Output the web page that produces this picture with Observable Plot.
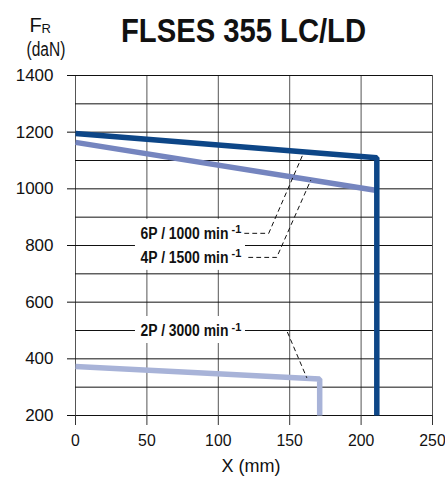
<!DOCTYPE html>
<html><head><meta charset="utf-8">
<script src="https://cdn.jsdelivr.net/npm/d3@7"></script>
<script src="https://cdn.jsdelivr.net/npm/@observablehq/plot@0.6"></script>
<style>
html,body{margin:0;padding:0;background:#fff;}
#chart{width:445px;height:478px;}
</style></head><body><div id="chart"></div>
<script>
// ---- data ----
const xTicks = [0, 50, 100, 150, 200, 250];
const yTicks = [200, 400, 600, 800, 1000, 1200, 1400];
const yGrid = [200, 300, 400, 500, 600, 700, 800, 900, 1000, 1100, 1200, 1300, 1400];

const x6P = [0, 211, 211];
const y6P = [1195, 1110, 200];
const x4P = [0, 210];
const y4P = [1164, 995];
const x2P = [0, 171, 171];
const y2P = [373, 329, 200];

const labels = ["6P / 1000 min", "4P / 1500 min", "2P / 3000 min"];
const labelSup = ["-1", "-1", "-1"];
const labelX = [45.5, 45.5, 45.5];
const labelY = [843, 758, 500];

const lead6Px = [118.5, 135.3, 159.8];
const lead6Py = [843, 843, 1128];
const lead4Px = [121.3, 140.9, 164.7];
const lead4Py = [758, 758, 1030];
const lead2Px = [121.3, 147.9, 161.9];
const lead2Py = [500, 500, 334];

const title = "FLSES 355 LC/LD";
const xLabel = "X (mm)";

const C6 = "#0d4687", C4 = "#7585bf", C2 = "#a8b3d8";
const FONT = "'Liberation Sans', Arial, sans-serif";

const pts = (xs, ys) => xs.map((x, i) => ({x, y: ys[i]}));
const lineOpts = (c) => ({x: "x", y: "y", stroke: c, strokeWidth: 5.5, strokeLinejoin: "miter", strokeLinecap: "butt"});
const leadOpts = {x: "x", y: "y", stroke: "#111", strokeWidth: 1, strokeDasharray: "4,4"};
const labelPos = {x: (d, i) => labelX[i], y: (d, i) => labelY[i]};

const svg = Plot.plot({
  width: 445, height: 478,
  marginLeft: 75, marginRight: 13, marginTop: 75, marginBottom: 63,
  style: {fontFamily: FONT, fontSize: "17px", color: "#111", background: "#fff"},
  x: {domain: [0, 250]},
  y: {domain: [200, 1400]},
  marks: [
    Plot.ruleX(xTicks, {stroke: "#555", strokeWidth: 1}),
    Plot.ruleY(yGrid, {stroke: "#111", strokeWidth: 1}),
    Plot.axisX(xTicks, {tickSize: 10, tickPadding: 8, fontSize: 17, label: null, stroke: "#333", tickFormat: "d"}),
    Plot.axisY(yTicks, {tickSize: 8, tickPadding: 14, fontSize: 17, label: null, stroke: "#111", tickFormat: "d"}),
    Plot.text([xLabel], {frameAnchor: "bottom", dx: -3, dy: 51, fontSize: 18, lineAnchor: "middle"}),
    // white boxes behind the series labels (pixel padding around each label anchor)
    Plot.rect(labels, {x1: (d, i) => labelX[i], x2: (d, i) => labelX[i], y1: (d, i) => labelY[i], y2: (d, i) => labelY[i],
      insetLeft: -5, insetRight: -105, insetTop: -14, insetBottom: -13, fill: "white"}),
    Plot.text(labels, {...labelPos, text: d => d, textAnchor: "start", lineAnchor: "middle",
      fontWeight: "bold", fontSize: 17, fill: "#111", className: "lbl"}),
    Plot.text(labelSup, {...labelPos, text: d => d, dx: 91, dy: -3.5, textAnchor: "start", lineAnchor: "middle",
      fontWeight: "bold", fontSize: 11, fill: "#111"}),
    Plot.line(pts(x4P, y4P), lineOpts(C4)),
    Plot.line(pts(x2P, y2P), lineOpts(C2)),
    Plot.line(pts(x6P, y6P), lineOpts(C6)),
    Plot.line(pts(lead6Px, lead6Py), leadOpts),
    Plot.line(pts(lead4Px, lead4Py), leadOpts),
    Plot.line(pts(lead2Px, lead2Py), leadOpts),
    Plot.text([title], {frameAnchor: "top", dx: -10.5, dy: -44, lineAnchor: "middle",
      fontWeight: "bold", fontSize: 33, fill: "#111", className: "ttl"}),
    Plot.text(["F"], {frameAnchor: "top-left", dx: -46, dy: -50, textAnchor: "start", lineAnchor: "middle", fontSize: 20}),
    Plot.text(["R"], {frameAnchor: "top-left", dx: -34, dy: -46.5, textAnchor: "start", lineAnchor: "middle", fontSize: 13}),
    Plot.text(["(daN)"], {frameAnchor: "top-left", dx: -49, dy: -26, textAnchor: "start", lineAnchor: "middle", fontSize: 21, className: "dan"})
  ]
});

const root = d3.select(svg);
// condensed look of the original type: horizontal squeeze around each text's anchor
function squeeze(sel, s) {
  sel.each(function() {
    const tr = this.getAttribute("transform");
    if (tr) {
      this.setAttribute("transform", tr + ` scale(${s},1)`);
    } else {
      const x = +this.getAttribute("x") || 0, y = +this.getAttribute("y") || 0;
      this.removeAttribute("x"); this.removeAttribute("y");
      this.setAttribute("transform", `translate(${x},${y}) scale(${s},1)`);
    }
  });
}
squeeze(root.selectAll(".ttl text"), 0.885);
squeeze(root.selectAll(".dan text"), 0.74);
squeeze(root.selectAll(".lbl text"), 0.82);
squeeze(root.selectAll('g[aria-label="x-axis tick label"] text'), 0.93);

document.getElementById("chart").appendChild(svg);
</script>
</body></html>
